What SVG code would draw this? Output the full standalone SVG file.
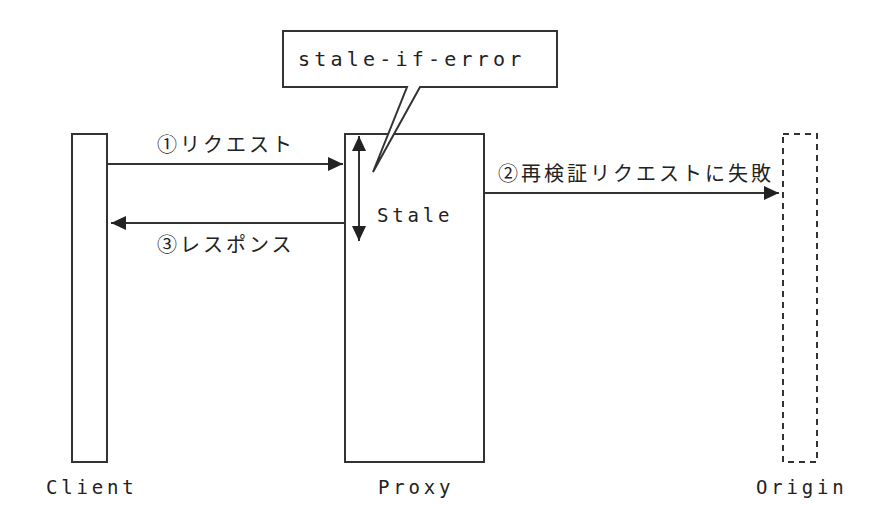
<svg xmlns="http://www.w3.org/2000/svg" width="882" height="522" viewBox="0 0 882 522">
<style>
.box{fill:#fff;stroke:#333;stroke-width:2}
.dash{fill:none;stroke:#333;stroke-width:2;stroke-dasharray:6 5}
.line{fill:none;stroke:#333;stroke-width:2}
.mono{font-family:"DejaVu Sans Mono","Liberation Mono",monospace;fill:#222}
.jp{font-family:"Noto Sans CJK JP","Noto Sans",sans-serif;font-size:20px;letter-spacing:3px;fill:#222}
</style>
<defs>
<marker id="ah" markerUnits="userSpaceOnUse" markerWidth="16" markerHeight="14" refX="15" refY="7" orient="auto-start-reverse">
<path d="M0,0 L15,7 L0,14 Z" fill="#222"/>
</marker>
</defs>
<rect width="882" height="522" fill="#fff"/>
<g id="client">
<rect class="box" x="72" y="134" width="35" height="328"/>
<text class="mono" x="46" y="494" font-size="19" letter-spacing="3.8">Client</text>
</g>
<g id="proxy">
<rect class="box" x="345" y="134" width="139" height="328"/>
<text class="mono" x="378" y="494" font-size="19" letter-spacing="3.8">Proxy</text>
<text class="mono" x="377" y="222" font-size="19" letter-spacing="3.8">Stale</text>
</g>
<g id="origin">
<rect class="dash" x="783" y="134" width="34" height="328"/>
<text class="mono" x="756" y="494" font-size="19" letter-spacing="3.8">Origin</text>
</g>
<g id="callout">
<path class="box" d="M283,31 H557 V87 H420 L373,172 L407,87 H283 Z"/>
<text class="mono" x="298" y="66" font-size="20" letter-spacing="4.2">stale-if-error</text>
</g>
<g id="connectors">
<line class="line" x1="107" y1="164" x2="343" y2="164" marker-end="url(#ah)"/>
<text class="jp" x="157" y="152">①リクエスト</text>
<line class="line" x1="484" y1="193" x2="779" y2="193" marker-end="url(#ah)"/>
<text class="jp" x="498" y="181" letter-spacing="2">②再検証リクエストに失敗</text>
<line class="line" x1="345" y1="223" x2="111" y2="223" marker-end="url(#ah)"/>
<text class="jp" x="157" y="252">③レスポンス</text>
<line class="line" x1="359" y1="136" x2="359" y2="241" marker-start="url(#ah)" marker-end="url(#ah)"/>
</g>
</svg>
